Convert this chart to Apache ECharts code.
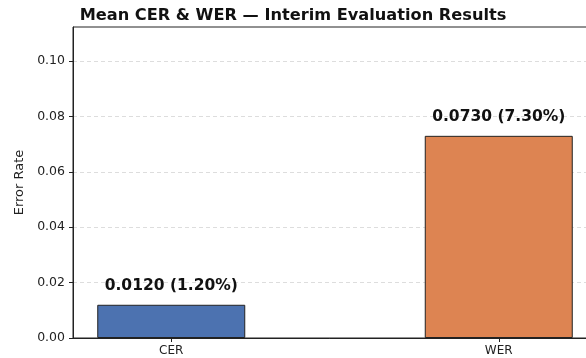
<!DOCTYPE html>
<html>
<head>
<meta charset="utf-8">
<script src="https://cdn.jsdelivr.net/npm/echarts@6/dist/echarts.min.js"></script>
<style>
  html, body { margin: 0; padding: 0; background: #fff; }
  #chart { width: 586px; height: 358px; }
</style>
</head>
<body>
<div id="chart"></div>
<script>
// categories on x, error rate on y
const categories = ['CER', 'WER'];
const errorRates = [0.0120, 0.0730];
const yTicks = [0, 0.02, 0.04, 0.06, 0.08, 0.10];
const barColors = ['#4c72b0', '#dd8452'];

const font = 'DejaVu Sans';
const barData = categories.map((c, i) => ({
    value: [i, errorRates[i]],
    itemStyle: { color: barColors[i] }
}));

let options = {
    animation: false,
    backgroundColor: '#fff',
    title: {
        text: 'Mean CER & WER \u2014 Interim Evaluation Results',
        left: 'center',
        top: 3,
        textStyle: { fontFamily: font, fontWeight: 'bold', fontSize: 16.2, color: '#111' }
    },
    grid: {
        left: 73, top: 27, width: 524, bottom: 20,
        outerBoundsMode: 'none',
        show: true, borderColor: '#222', borderWidth: 1, backgroundColor: '#fff'
    },
    xAxis: {
        type: 'value',
        min: -0.3,
        max: 1.3,
        splitLine: { show: false },
        axisLine: { show: true, onZero: false, lineStyle: { color: '#222' } },
        axisTick: { show: true, customValues: [0, 1], length: 4, lineStyle: { color: '#222' } },
        axisLabel: {
            customValues: [0, 1],
            formatter: v => categories[Math.round(v)],
            fontFamily: font, fontSize: 12, color: '#222', margin: 7
        }
    },
    yAxis: {
        type: 'value',
        min: 0,
        max: 0.1123,
        name: 'Error Rate',
        nameLocation: 'middle',
        nameGap: 47,
        nameTextStyle: { fontFamily: font, fontSize: 13, color: '#222' },
        axisLine: { show: true, onZero: false, lineStyle: { color: '#222' } },
        axisTick: { show: true, customValues: yTicks, length: 4, lineStyle: { color: '#222' } },
        axisLabel: {
            customValues: yTicks,
            formatter: v => v.toFixed(2),
            fontFamily: font, fontSize: 12.5, color: '#222', margin: 8
        },
        splitLine: { show: true, lineStyle: { type: [4, 3], color: '#d4d4d4', width: 0.8 } }
    },
    series: [
        {
            type: 'bar',
            data: barData,
            barWidth: 148,
            itemStyle: { borderColor: '#222', borderWidth: 1 },
            label: {
                show: true,
                position: 'top',
                distance: 11,
                formatter: p => p.value[1].toFixed(4) + ' (' + (p.value[1] * 100).toFixed(2) + '%)',
                fontFamily: font, fontWeight: 'bold', fontSize: 15.5, color: '#111'
            }
        }
    ]
};

let chart = echarts.init(document.getElementById('chart'));
chart.setOption(options);
</script>
</body>
</html>
